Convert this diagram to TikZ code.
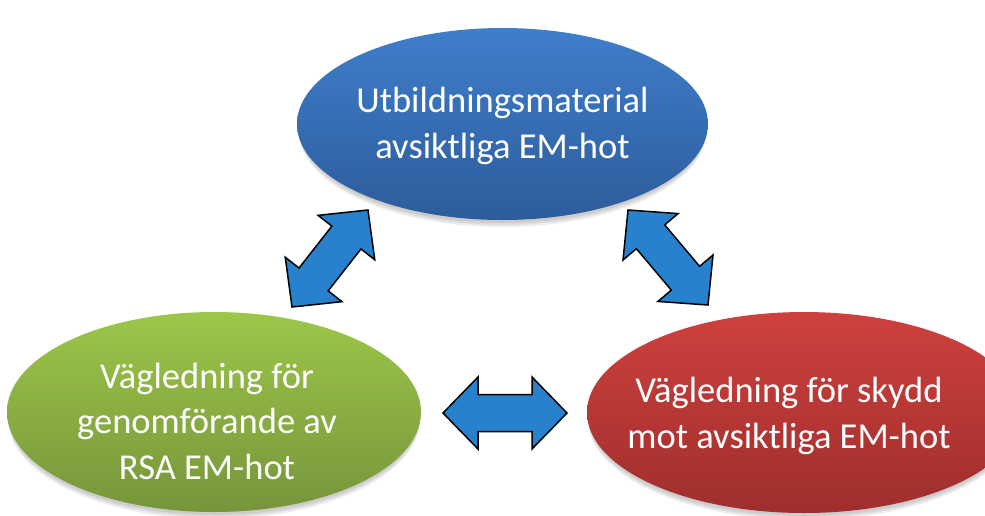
\documentclass[tikz,border=0pt]{standalone}
\usepackage{fontspec}
\setmainfont{Carlito}
\usetikzlibrary{shapes.geometric,calc}
\definecolor{bluetop}{HTML}{3F7ECB}
\definecolor{bluebot}{HTML}{2D5C9B}
\definecolor{greentop}{HTML}{9DC64A}
\definecolor{greenbot}{HTML}{76953A}
\definecolor{redtop}{HTML}{CE413E}
\definecolor{redbot}{HTML}{9E2E2C}
\definecolor{arrowblue}{HTML}{2881CD}
\newcommand{\dblarr}[2]{%
  \draw[blockarrow] (#1)
    -- ($(#1)!35pt!(#2)!36pt!90:(#2)$)
    -- ($(#1)!35pt!(#2)!18.5pt!90:(#2)$)
    -- ($(#2)!35pt!(#1)!18.5pt!-90:(#1)$)
    -- ($(#2)!35pt!(#1)!36pt!-90:(#1)$)
    -- (#2)
    -- ($(#2)!35pt!(#1)!36pt!90:(#1)$)
    -- ($(#2)!35pt!(#1)!18.5pt!90:(#1)$)
    -- ($(#1)!35pt!(#2)!18.5pt!-90:(#2)$)
    -- ($(#1)!35pt!(#2)!36pt!-90:(#2)$)
    -- cycle;}
\begin{document}
\begin{tikzpicture}[x=1pt,y=-1pt,
  bubble/.style={ellipse, draw=none, inner sep=0pt},
  lbl/.style={text=white, align=center, inner sep=0pt,
              font=\fontsize{36.5}{45.5}\selectfont},
  blockarrow/.style={fill=arrowblue, draw=black, line width=1.5pt, line join=miter},
  shadowfill/.style={fill=black, opacity=0.07}]
\useasboundingbox (0,0) rectangle (985,515);
\clip (0,0) rectangle (985,515);
% soft shadows
\foreach \d in {3,5,7} {
  \fill[shadowfill] (502.5,124+\d) ellipse [x radius=204, y radius=96];
  \fill[shadowfill] (214,412+\d) ellipse [x radius=206, y radius=100];
  \fill[shadowfill] (804,412.5+\d) ellipse [x radius=216, y radius=100.5];
}
% ellipses
\node[bubble, minimum width=411pt, minimum height=192pt,
      top color=bluetop, bottom color=bluebot] (blue) at (502.5,124) {};
\node[bubble, minimum width=414pt, minimum height=200pt,
      top color=greentop, bottom color=greenbot] (green) at (214,412) {};
\node[bubble, minimum width=434pt, minimum height=201pt,
      top color=redtop, bottom color=redbot] (red) at (804,412.5) {};
% labels
\node[lbl] (bluetext) at (502.5,126) {Utbildningsmaterial\\avsiktliga EM-hot};
\node[lbl] (greentext) at (207,421) {Vägledning för\\genomförande av\\RSA EM-hot};
\node[lbl] (redtext) at (789,416) {Vägledning för skydd\\mot avsiktliga EM-hot};
% arrow end points
\coordinate (L1) at (292,307);
\coordinate (L2) at (368,210);
\coordinate (R1) at (628,210);
\coordinate (R2) at (708,305);
\coordinate (H1) at (443,413);
\coordinate (H2) at (567,413);
\dblarr{L1}{L2}
\dblarr{R1}{R2}
\dblarr{H1}{H2}
\end{tikzpicture}
\end{document}
